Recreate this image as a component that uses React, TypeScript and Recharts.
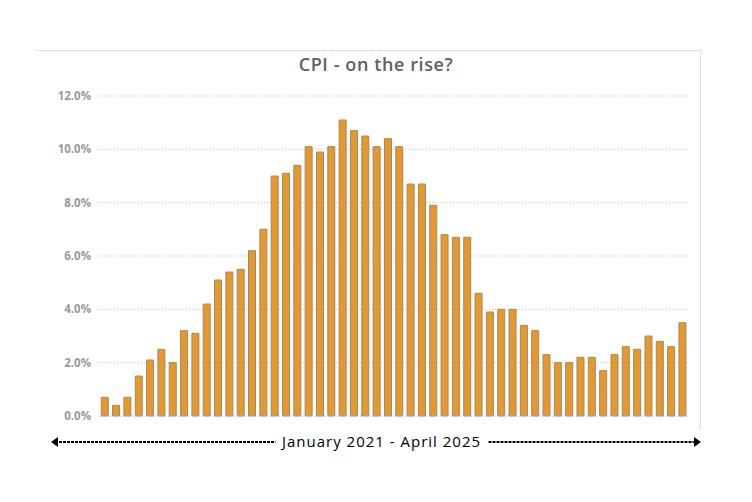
import { BarChart, Bar, XAxis, YAxis, CartesianGrid } from "recharts";

const months = [
  "Jan 21", "Feb 21", "Mar 21", "Apr 21", "May 21", "Jun 21", "Jul 21", "Aug 21", "Sep 21", "Oct 21", "Nov 21", "Dec 21",
  "Jan 22", "Feb 22", "Mar 22", "Apr 22", "May 22", "Jun 22", "Jul 22", "Aug 22", "Sep 22", "Oct 22", "Nov 22", "Dec 22",
  "Jan 23", "Feb 23", "Mar 23", "Apr 23", "May 23", "Jun 23", "Jul 23", "Aug 23", "Sep 23", "Oct 23", "Nov 23", "Dec 23",
  "Jan 24", "Feb 24", "Mar 24", "Apr 24", "May 24", "Jun 24", "Jul 24", "Aug 24", "Sep 24", "Oct 24", "Nov 24", "Dec 24",
  "Jan 25", "Feb 25", "Mar 25", "Apr 25",
];

const cpi = [
  0.7, 0.4, 0.7, 1.5, 2.1, 2.5, 2.0, 3.2, 3.1, 4.2, 5.1, 5.4,
  5.5, 6.2, 7.0, 9.0, 9.1, 9.4, 10.1, 9.9, 10.1, 11.1, 10.7, 10.5,
  10.1, 10.4, 10.1, 8.7, 8.7, 7.9, 6.8, 6.7, 6.7, 4.6, 3.9, 4.0,
  4.0, 3.4, 3.2, 2.3, 2.0, 2.0, 2.2, 2.2, 1.7, 2.3, 2.6, 2.5,
  3.0, 2.8, 2.6, 3.5,
];

const yTicks = [0, 2, 4, 6, 8, 10, 12];
const title = "CPI - on the rise?";
const periodLabel = "January 2021 - April 2025";

const data = months.map((m, i) => ({ month: m, cpi: cpi[i] }));

function PeriodArrow(props: any) {
  const { viewBox } = props;
  const y = viewBox.y + 26;
  const left = viewBox.x - 48;
  const right = viewBox.x + viewBox.width + 13;
  const mid = viewBox.x + viewBox.width / 2 - 12;
  return (
    <g>
      <line x1={left + 4} y1={y} x2={mid - 106} y2={y} stroke="#000" strokeWidth={2} strokeDasharray="3 1" />
      <line x1={mid + 107} y1={y} x2={right - 4} y2={y} stroke="#000" strokeWidth={2} strokeDasharray="3 1" />
      <polygon points={`${left},${y} ${left + 7},${y - 5} ${left + 7},${y + 5}`} fill="#000" />
      <polygon points={`${right},${y} ${right - 7},${y - 5} ${right - 7},${y + 5}`} fill="#000" />
      <text
        x={mid}
        y={y + 5}
        textAnchor="middle"
        fontSize={15}
        letterSpacing={1}
        fill="#000"
        fontFamily="'Open Sans', sans-serif"
      >
        {periodLabel}
      </text>
    </g>
  );
}

export default function App() {
  return (
    <div style={{ position: "absolute", left: 0, top: 0, width: 752, height: 502, background: "#fff" }}>
      <div
        style={{
          position: "absolute",
          left: 36,
          top: 50,
          width: 664,
          height: 378,
          borderTop: "1px dotted #c8c8c8",
          borderRight: "1px dotted #c8c8c8",
        }}
      />
      <div
        style={{
          position: "absolute",
          left: 0,
          width: 752,
          top: 52,
          textAlign: "center",
          fontFamily: "'Open Sans', sans-serif",
          fontWeight: 600,
          fontSize: 18,
          letterSpacing: 0.6,
          color: "#606060",
        }}
      >
        {title}
      </div>
      <BarChart
        width={752}
        height={502}
        data={data}
        margin={{ top: 96, right: 64, bottom: 56, left: 0 }}
        barCategoryGap="20%"
        style={{ position: "absolute", left: 0, top: 0 }}
      >
        <CartesianGrid vertical={false} stroke="#bdbdbd" strokeDasharray="1 2" />
        <XAxis
          dataKey="month"
          height={30}
          tick={false}
          tickLine={false}
          axisLine={{ stroke: "#cfcfcf", strokeDasharray: "1 2" }}
          label={<PeriodArrow />}
        />
        <YAxis
          width={99}
          domain={[0, 12]}
          ticks={yTicks}
          interval={0}
          axisLine={false}
          tickLine={false}
          tick={{ fontSize: 11.5, fill: "#9a9a9a", fontWeight: 700, fontFamily: "'Open Sans', sans-serif" }}
          tickFormatter={(v) => `${Number(v).toFixed(1)}%`}
        />
        <Bar dataKey="cpi" fill="#E6982C" stroke="#9c8a6e" strokeWidth={1} isAnimationActive={false} />
      </BarChart>
    </div>
  );
}
